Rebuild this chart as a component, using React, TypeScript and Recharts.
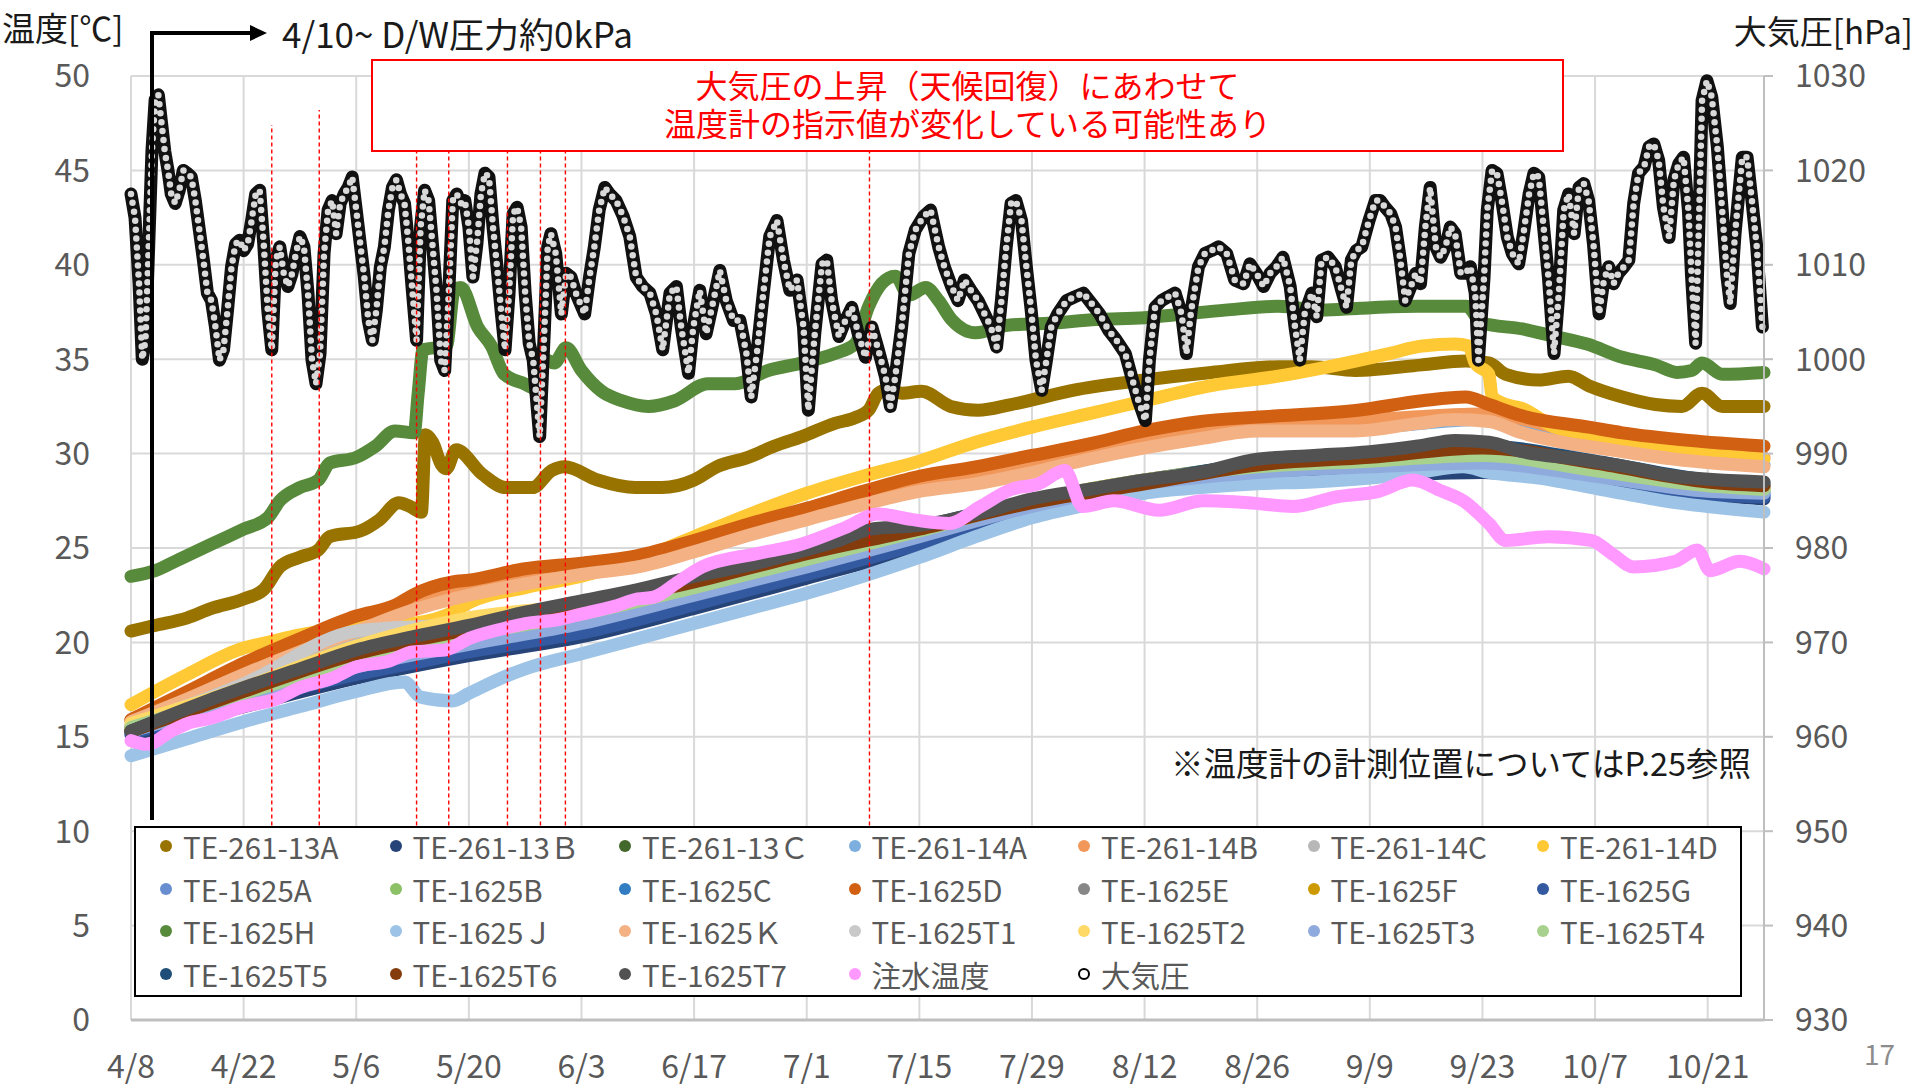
import React from 'react'
import { LineChart, Line, XAxis, YAxis, CartesianGrid, ReferenceLine } from 'recharts'

// x axis: days counted from 4/8
const dayTicks = [0, 14, 28, 42, 56, 70, 84, 98, 112, 126, 140, 154, 168, 182, 196]
const dateLabels = ['4/8', '4/22', '5/6', '5/20', '6/3', '6/17', '7/1', '7/15', '7/29', '8/12', '8/26', '9/9', '9/23', '10/7', '10/21']
const tempTicks = [0, 5, 10, 15, 20, 25, 30, 35, 40, 45, 50]
const pressureTicks = [930, 940, 950, 960, 970, 980, 990, 1000, 1010, 1020, 1030]

// red dotted markers (day, top in degC)
const eventDays = [17.5, 23.4, 35.5, 39.5, 46.8, 50.9, 54.0, 91.8]
const eventTops = [47.4, 48.2, 46, 46, 46, 46, 46, 46]

// coarse grid for the series that sit inside the bundle
const bundleDays = [0, 14, 28, 42, 56, 70, 84, 98, 112, 126, 140, 154, 168, 182, 196, 203]

const te261_13A = [[0, 20.6], [3, 20.9], [7, 21.3], [10, 21.8], [14, 22.3], [16.5, 22.8], [18.5, 24.0], [20.9, 24.5], [23.3, 24.9], [24.7, 25.6], [28.5, 25.9], [30.9, 26.5], [33.3, 27.4], [34.7, 27.2], [36.1, 26.9], [36.6, 31.0], [37.5, 30.6], [38.6, 29.4], [39.2, 29.2], [40.4, 30.2], [43.7, 28.9], [46.6, 28.2], [49.9, 28.2], [52.3, 29.1], [53.9, 29.3], [58, 28.6], [62.7, 28.2], [66, 28.2], [70, 28.6], [72.8, 29.3], [76.7, 29.8], [80, 30.4], [83.4, 30.9], [87.5, 31.6], [90, 31.9], [91.7, 32.3], [92.9, 33.2], [94.2, 33.4], [95.8, 33.2], [98.3, 33.3], [101.9, 32.5], [105.3, 32.3], [109.4, 32.6], [117.7, 33.4], [126, 33.9], [134.3, 34.3], [142.6, 34.6], [146.8, 34.6], [152.2, 34.4], [160.5, 34.7], [165.9, 34.9], [168.8, 34.8], [170.9, 34.2], [175, 33.9], [178.7, 34.1], [181.2, 33.6], [185.4, 33.0], [189.5, 32.6], [192.8, 32.5], [195.3, 33.2], [197.8, 32.5], [203, 32.5]]
const te261_13B = [15.1, 16.6, 18.1, 19.3, 20.3, 21.8, 23.4, 25.0, 26.8, 28.1, 28.6, 28.8, 29.0, 28.4, 27.8, 27.6]
const te261_13C = [15.5, 17.4, 19.2, 20.5, 21.6, 23.0, 24.5, 26.0, 27.5, 28.6, 29.4, 29.7, 30.1, 29.3, 28.4, 28.3]
const te261_14A = [15.9, 18.4, 20.7, 22.6, 23.7, 24.9, 26.6, 28.2, 29.2, 30.4, 31.3, 31.4, 31.8, 30.5, 29.6, 29.4]
const te261_14B = [15.9, 18.6, 21.0, 22.9, 23.9, 25.1, 26.8, 28.4, 29.4, 30.7, 31.6, 31.8, 32.1, 30.9, 30.1, 29.8]
const te261_14C = [15.6, 17.6, 20.3, 20.8, 21.9, 23.0, 24.3, 25.8, 27.4, 28.5, 29.3, 29.6, 29.8, 29.1, 28.3, 28.1]
const te261_14D = [[0, 16.7], [7, 18.3], [14, 19.7], [17, 20.0], [21, 20.4], [28, 20.8], [35, 21.0], [40, 21.6], [42, 22.1], [49, 22.9], [56, 23.5], [63, 24.4], [70, 25.6], [77, 26.8], [84, 27.9], [91, 28.8], [98, 29.6], [105, 30.6], [112, 31.4], [119, 32.1], [126, 32.8], [134.3, 33.6], [142.6, 34.1], [152.2, 34.9], [156.4, 35.3], [160.5, 35.7], [164.6, 35.8], [166.3, 35.7], [167.1, 34.8], [168.8, 34.2], [169.2, 33.0], [170.9, 32.6], [172.9, 32.4], [177, 31.4], [182, 31.0], [188, 30.4], [195, 30.0], [203, 29.7]]
const te1625A = [15.3, 17.0, 18.6, 19.8, 20.9, 22.4, 24.0, 25.5, 27.2, 28.4, 29.0, 29.3, 29.5, 28.8, 28.1, 27.9]
const te1625B = [15.4, 17.2, 18.9, 20.1, 21.2, 22.6, 24.1, 25.6, 27.3, 28.5, 29.1, 29.4, 29.6, 28.9, 28.2, 28.0]
const te1625C = [15.3, 16.9, 18.5, 19.7, 20.8, 22.3, 23.9, 25.4, 27.1, 28.4, 28.9, 29.2, 29.4, 28.7, 28.0, 27.8]
const te1625D = [[0, 15.9], [7, 17.4], [14, 18.9], [21, 20.2], [28, 21.4], [33, 22.0], [35, 22.5], [40, 23.2], [42, 23.3], [49, 23.9], [56, 24.2], [63, 24.6], [70, 25.4], [77, 26.3], [84, 27.1], [91, 28.0], [98, 28.8], [105, 29.3], [112, 29.9], [119, 30.5], [126, 31.2], [133, 31.7], [142.6, 32.0], [152.5, 32.3], [160.5, 32.8], [165.9, 33.0], [168.8, 32.6], [172.9, 32.0], [181.2, 31.4], [185.4, 31.1], [193.6, 30.7], [203, 30.4]]
const te1625E = [15.5, 17.4, 19.2, 20.5, 21.6, 23.0, 24.5, 25.9, 27.5, 28.5, 29.3, 29.6, 30.0, 29.2, 28.3, 28.2]
const te1625F = [15.4, 17.3, 19.0, 20.3, 21.4, 22.8, 24.3, 25.8, 27.4, 28.5, 29.2, 29.5, 29.8, 29.0, 28.2, 28.1]
const te1625G = [[0, 15.2], [7, 16.0], [14, 16.8], [21, 17.6], [28, 18.3], [35, 18.9], [42, 19.5], [49, 20.0], [56, 20.5], [63, 21.2], [70, 22.0], [77, 22.8], [84, 23.6], [91, 24.4], [98, 25.2], [105, 26.1], [112, 27.0], [119, 27.7], [126, 28.3], [133, 28.6], [140, 28.8], [147, 28.9], [154, 29.0], [160, 29.2], [165.6, 29.4], [168.8, 29.2], [175, 28.9], [182, 28.5], [186, 28.1], [192, 27.9], [203, 27.7]]
const te1625H = [[0, 23.5], [3, 23.8], [6, 24.4], [10, 25.2], [14, 26.0], [17, 26.6], [18.5, 27.5], [21, 28.2], [23.3, 28.6], [24.7, 29.5], [28, 29.8], [30.4, 30.4], [32.8, 31.2], [35.2, 31.1], [35.7, 33.2], [36.3, 35.5], [39.2, 35.7], [40.2, 38.7], [41, 38.8], [43.1, 36.7], [44.8, 35.7], [46.4, 34.2], [48.9, 33.7], [50.6, 33.4], [51.4, 35.0], [52.6, 34.8], [54.1, 35.6], [56, 34.4], [58.5, 33.3], [61, 32.8], [64.3, 32.5], [67.6, 32.8], [71.7, 33.7], [75.1, 33.7], [79.2, 34.4], [83.4, 34.8], [87.5, 35.3], [90, 35.8], [91.7, 37.8], [93.3, 39.0], [95, 39.4], [96.7, 38.4], [98.8, 38.8], [100.4, 38.1], [102, 37.1], [105, 36.4], [109, 36.8], [114, 36.9], [120, 37.1], [126, 37.2], [131, 37.4], [136, 37.6], [142.6, 37.8], [148, 37.6], [152.8, 37.7], [160, 37.8], [166, 37.8], [168, 36.9], [173, 36.6], [177, 36.2], [181, 35.8], [185.4, 35.1], [189.5, 34.7], [192.2, 34.3], [194, 34.4], [195.3, 34.8], [197.8, 34.2], [203, 34.3]]
const te1625J = [[0, 14.0], [7, 14.9], [14, 15.8], [21, 16.6], [28, 17.4], [34, 17.9], [36, 17.1], [40, 16.9], [42, 17.3], [46, 18.1], [49, 18.6], [56, 19.4], [63, 20.2], [70, 21.0], [77, 21.8], [84, 22.6], [91, 23.5], [98, 24.5], [105, 25.6], [112, 26.6], [119, 27.3], [126, 27.9], [133, 28.2], [140, 28.4], [147, 28.5], [154, 28.7], [160, 29.0], [165.6, 29.3], [168.8, 29.0], [175, 28.7], [184, 28.0], [192, 27.4], [203, 26.9]]
const te1625K = [[0, 15.8], [7, 17.0], [14, 18.3], [21, 19.5], [28, 20.6], [35, 21.7], [40, 22.3], [42, 22.5], [49, 23.1], [56, 23.6], [63, 24.0], [70, 24.8], [77, 25.7], [84, 26.5], [91, 27.3], [98, 28.0], [105, 28.4], [112, 29.0], [119, 29.7], [126, 30.3], [133, 30.8], [140, 31.2], [147, 31.2], [152.2, 31.2], [160, 31.6], [164.6, 31.8], [168.8, 31.7], [172.9, 31.1], [178, 30.6], [184, 30.2], [192, 29.7], [203, 29.3]]
const te1625T1 = [15.6, 17.8, 20.6, 21.0, 21.9, 22.9, 24.3, 25.8, 27.3, 28.4, 29.1, 29.4, 29.7, 29.0, 28.2, 28.0]
const te1625T2 = [15.7, 17.6, 19.8, 21.3, 22.0, 23.0, 24.4, 25.9, 27.5, 28.6, 29.2, 29.5, 29.7, 29.1, 28.3, 28.1]
const te1625T3 = [15.3, 17.0, 18.7, 19.9, 21.0, 22.5, 24.0, 25.6, 27.2, 28.4, 29.0, 29.3, 29.5, 28.8, 28.0, 27.9]
const te1625T4 = [15.5, 17.3, 19.1, 20.4, 21.5, 22.9, 24.4, 25.9, 27.5, 28.6, 29.3, 29.6, 29.9, 29.1, 28.3, 28.1]
const te1625T5 = [15.3, 17.5, 19.5, 20.8, 22.0, 23.3, 24.8, 26.1, 27.5, 28.5, 29.5, 29.9, 30.4, 29.6, 28.6, 28.4]
const te1625T6 = [15.3, 17.4, 19.4, 20.7, 21.9, 23.2, 24.7, 26.0, 27.4, 28.4, 29.4, 29.8, 30.3, 29.5, 28.5, 28.3]
const te1625T7 = [[0, 15.3], [7, 16.5], [14, 17.6], [21, 18.6], [28, 19.6], [35, 20.3], [42, 20.9], [49, 21.6], [56, 22.2], [63, 22.8], [70, 23.5], [77, 24.1], [84, 24.9], [88, 25.4], [92, 26.0], [98, 26.2], [105, 26.8], [112, 27.6], [119, 28.1], [126, 28.6], [133, 29.0], [140, 29.7], [147, 29.9], [154, 30.1], [160, 30.4], [164.6, 30.7], [168.8, 30.6], [173, 30.1], [180, 29.7], [186, 29.3], [192, 28.8], [203, 28.5]]
const waterTemp = [[0, 14.8], [2, 14.6], [5, 15.3], [7, 15.7], [10, 16.0], [14, 16.6], [18, 17.0], [21, 17.6], [25, 18.1], [28, 18.7], [32, 19.0], [35, 19.5], [39, 19.6], [42, 20.2], [46, 20.7], [49, 21.0], [53, 21.2], [56, 21.5], [60, 21.9], [63, 22.3], [65, 22.4], [68, 23.2], [71, 24.0], [77.8, 24.7], [83.3, 25.2], [88.9, 26.1], [92.8, 26.8], [97.2, 26.5], [101.7, 26.3], [105.6, 27.2], [109.4, 28.1], [112.8, 28.4], [116.1, 29.1], [118.3, 27.2], [122.2, 27.5], [127.8, 27.0], [133.3, 27.5], [138.9, 27.4], [144.5, 27.2], [149.8, 27.7], [155.1, 28.0], [159.3, 28.6], [163, 28.0], [165.6, 27.5], [168.8, 26.3], [170.9, 25.4], [176.2, 25.6], [181.5, 25.4], [184.1, 24.7], [186.8, 24.0], [192, 24.3], [194.7, 24.9], [196.3, 23.8], [200, 24.3], [203, 23.9]]

// atmospheric pressure [day, hPa]
const pressure = [[0, 1017.5], [0.5, 1015], [1, 1008], [1.4, 1000], [1.8, 1002], [2.2, 1012], [2.6, 1022], [3, 1027.5], [3.4, 1028], [3.8, 1025], [4.2, 1022], [4.6, 1020], [5, 1017.5], [5.5, 1016.5], [6, 1017.9], [6.5, 1020], [7, 1019.7], [7.5, 1019.3], [8, 1016.8], [9, 1010.5], [9.5, 1007], [10, 1006.2], [10.5, 1003.4], [11, 999.9], [11.5, 1001], [12, 1005.2], [12.5, 1009.8], [13, 1012.2], [13.5, 1012.6], [14, 1011.5], [14.5, 1012.2], [15, 1014.7], [15.5, 1017.5], [16, 1017.9], [16.5, 1012.2], [17, 1005.2], [17.5, 1001], [18, 1010.5], [18.5, 1011.9], [19, 1009], [19.5, 1007.7], [20, 1009], [20.5, 1011.2], [21, 1013], [21.5, 1011.9], [22, 1007], [22.5, 999.9], [23, 997.4], [23.5, 1000.6], [24, 1011.2], [24.5, 1015.8], [25, 1016.8], [25.5, 1013.3], [26, 1016.5], [26.5, 1017.5], [27, 1018.2], [27.5, 1019.3], [28, 1015.8], [28.5, 1012.2], [29, 1008.7], [29.5, 1004.1], [30, 1002], [30.5, 1005.2], [31, 1009.8], [31.5, 1011.9], [32, 1015.8], [32.5, 1018.2], [33, 1019], [33.5, 1017.5], [34, 1016.5], [34.5, 1012.2], [35, 1007], [35.5, 1002], [36, 1014], [36.5, 1017.9], [37, 1016.8], [37.5, 1011.9], [38, 1007], [38.5, 999.9], [39, 998.8], [39.5, 1007], [40, 1016.8], [40.5, 1017.5], [41, 1016.5], [41.5, 1016.8], [42, 1014], [42.5, 1008.7], [43, 1012.2], [43.5, 1017.5], [44, 1019.7], [44.5, 1019.3], [45, 1014], [45.5, 1009.8], [46, 1005.2], [46.5, 1001], [47, 1007], [47.5, 1015.4], [48, 1016.1], [48.5, 1014], [49, 1007], [49.5, 1001.7], [50, 999.9], [50.8, 991.8], [51.4, 1003.4], [51.8, 1011.9], [52.2, 1013.3], [52.8, 1011.2], [53.5, 1004.8], [54.1, 1009.1], [54.7, 1008.7], [55.3, 1007], [56.4, 1004.8], [57, 1008.7], [57.6, 1011.9], [58.2, 1015.8], [58.9, 1018.2], [59.5, 1017.5], [60.3, 1016.8], [61.2, 1015.1], [62, 1013], [62.8, 1008.7], [63.6, 1007.7], [64.5, 1007], [65.3, 1004.8], [66.1, 1001], [67, 1007], [67.8, 1007.7], [68.4, 1003.4], [69.3, 998.5], [69.9, 1003.4], [70.7, 1007.3], [71.5, 1002.7], [72.4, 1006.2], [73.2, 1009.4], [74, 1006.2], [74.9, 1004.1], [75.7, 1004.1], [76.5, 1000.6], [77.1, 996], [77.8, 1000.6], [78.6, 1007], [79.4, 1013], [80.3, 1014.7], [81.1, 1010.5], [81.9, 1007.3], [82.8, 1008.4], [83.6, 1003.4], [84.2, 994.6], [85, 1002.7], [85.9, 1010.1], [86.5, 1010.5], [87.1, 1006.2], [88, 1002.4], [88.8, 1004.1], [89.6, 1005.5], [90.4, 1002.7], [91.3, 1000.2], [92.1, 1003.4], [92.9, 1001], [93.8, 998.1], [94.4, 995], [95, 998.1], [95.8, 1003.4], [96.7, 1011.2], [97.5, 1013.7], [98.5, 1015.1], [99.4, 1015.8], [100.4, 1011.9], [101.1, 1009.8], [102, 1007.7], [102.8, 1006.2], [103.6, 1008.4], [104.4, 1007.3], [105.3, 1006.2], [106.1, 1004.8], [106.9, 1003.4], [107.6, 1001.3], [108.2, 1006.2], [108.8, 1011.9], [109.4, 1016.5], [110, 1016.8], [110.7, 1014.7], [111.3, 1009.8], [111.9, 1005.2], [112.5, 999.9], [113.2, 996.7], [113.8, 999.9], [114.4, 1003.4], [115.2, 1004.8], [116.3, 1006.2], [117.3, 1006.6], [118.4, 1007], [119.4, 1005.9], [120.4, 1004.8], [121.5, 1003.1], [122.5, 1002], [123.6, 1000.6], [124.4, 998.1], [125.2, 995.7], [126.1, 993.5], [126.6, 999.9], [127.3, 1005.5], [128.1, 1006.2], [128.9, 1006.6], [129.8, 1007], [130.6, 1004.8], [131.2, 1000.6], [131.8, 1005.2], [132.7, 1009.8], [133.5, 1011.2], [134.3, 1011.5], [135.2, 1011.9], [136.2, 1011.2], [137.2, 1008.4], [138.3, 1008], [139.1, 1010.1], [139.9, 1009.1], [140.8, 1007.7], [141.6, 1009.1], [142.4, 1009.8], [143.2, 1010.8], [144.1, 1007.7], [144.7, 1003.4], [145.3, 999.9], [145.9, 1004.8], [146.8, 1007], [147.4, 1004.5], [148, 1010.5], [148.8, 1010.8], [149.7, 1009.8], [150.5, 1007.3], [151.1, 1005.5], [151.7, 1010.5], [152.3, 1011.5], [153, 1011.9], [153.9, 1014.7], [154.7, 1016.8], [155.3, 1016.8], [155.9, 1016.1], [156.6, 1015.4], [157.2, 1014], [157.8, 1010.5], [158.4, 1006.2], [159.1, 1007.7], [159.7, 1009.1], [160.3, 1008], [160.9, 1014], [161.5, 1018.2], [162.2, 1011.9], [162.8, 1010.8], [163.4, 1011.9], [164, 1014], [164.6, 1013.3], [165.3, 1009.1], [165.9, 1009.1], [166.5, 1009.8], [167.1, 1007], [167.5, 999.9], [168.2, 1008.7], [168.6, 1015.8], [169.2, 1020], [169.8, 1019.7], [170.4, 1016.8], [171.1, 1012.9], [171.7, 1011.2], [172.5, 1010.1], [173.1, 1013.3], [173.8, 1017.5], [174.4, 1019.7], [175, 1019.3], [175.6, 1014], [176.2, 1008.7], [176.9, 1000.6], [177.5, 1007], [178.1, 1015.8], [178.7, 1017.5], [179.4, 1013.3], [180, 1018.2], [180.6, 1018.6], [181.2, 1016.8], [181.8, 1012.2], [182.5, 1004.8], [183.1, 1008.4], [183.7, 1009.8], [184.3, 1008], [184.9, 1009.1], [185.6, 1009.8], [186.2, 1010.5], [186.8, 1016.5], [187.4, 1019.7], [188.1, 1020.4], [188.7, 1022.5], [189.3, 1022.8], [189.9, 1021.1], [190.5, 1016.1], [191.2, 1012.9], [191.8, 1019], [192.4, 1020.7], [193, 1021.4], [193.6, 1015.8], [194, 1008.7], [194.5, 1001.7], [194.9, 1014], [195.3, 1027.4], [195.9, 1029.5], [196.5, 1027.8], [197.2, 1022.5], [197.8, 1015.8], [198.4, 1008.7], [198.8, 1005.9], [199.4, 1013.3], [200.3, 1021.4], [200.9, 1021.4], [201.5, 1016.8], [202.1, 1011.9], [202.8, 1003.4]]

const onGrid = (vals: number[]) => vals.map((v, i) => [bundleDays[i], v])

const series = [
  { name: 'TE-261-13A', color: '#997300', pts: te261_13A },
  { name: 'TE-261-13Ｂ', color: '#264478', pts: onGrid(te261_13B) },
  { name: 'TE-261-13Ｃ', color: '#43682b', pts: onGrid(te261_13C) },
  { name: 'TE-261-14A', color: '#7cafdd', pts: onGrid(te261_14A) },
  { name: 'TE-261-14B', color: '#f1975a', pts: onGrid(te261_14B) },
  { name: 'TE-261-14C', color: '#b7b7b7', pts: onGrid(te261_14C) },
  { name: 'TE-261-14D', color: '#ffc935', pts: te261_14D },
  { name: 'TE-1625A', color: '#698ed0', pts: onGrid(te1625A) },
  { name: 'TE-1625B', color: '#8cc168', pts: onGrid(te1625B) },
  { name: 'TE-1625C', color: '#327dc2', pts: onGrid(te1625C) },
  { name: 'TE-1625D', color: '#d26012', pts: te1625D },
  { name: 'TE-1625E', color: '#878787', pts: onGrid(te1625E) },
  { name: 'TE-1625F', color: '#cc9a00', pts: onGrid(te1625F) },
  { name: 'TE-1625G', color: '#335aa1', pts: te1625G },
  { name: 'TE-1625H', color: '#588a3c', pts: te1625H },
  { name: 'TE-1625Ｊ', color: '#9dc3e6', pts: te1625J },
  { name: 'TE-1625Ｋ', color: '#f4b183', pts: te1625K },
  { name: 'TE-1625T1', color: '#c9c9c9', pts: onGrid(te1625T1) },
  { name: 'TE-1625T2', color: '#ffd966', pts: onGrid(te1625T2) },
  { name: 'TE-1625T3', color: '#8faadc', pts: onGrid(te1625T3) },
  { name: 'TE-1625T4', color: '#a9d18e', pts: onGrid(te1625T4) },
  { name: 'TE-1625T5', color: '#1f4e79', pts: onGrid(te1625T5) },
  { name: 'TE-1625T6', color: '#843c0c', pts: onGrid(te1625T6) },
  { name: 'TE-1625T7', color: '#525252', pts: te1625T7 },
  { name: '注水温度', color: '#ff99ff', pts: waterTemp },
]

const toRows = (pts: number[][]) => pts.map(([day, v]) => ({ day, v }))

const FONT = "'Noto Sans CJK JP', 'Noto Sans', sans-serif"
const GRAY = '#595959'

// legend layout (7 columns x 4 rows)
const legendCols = 7
const legendColStep = 229.5
const legendRowStep = 42.5

export default function App() {
  const legendItems = [...series.map((s) => ({ name: s.name, color: s.color, hollow: false })), { name: '大気圧', color: '#000', hollow: true }]
  const pressureRows = toRows(pressure)

  return (
    <div style={{ position: 'absolute', left: 0, top: 0, width: 1917, height: 1086, background: '#fff', fontFamily: FONT, overflow: 'hidden' }}>
      <LineChart width={1917} height={1086} margin={{ top: 76, right: 73, bottom: 16, left: 71 }}>
        <CartesianGrid yAxisId="t" stroke="#d9d9d9" strokeWidth={2} />
        <XAxis
          dataKey="day"
          type="number"
          domain={[0, 203]}
          ticks={dayTicks}
          interval={0}
          tickFormatter={(v) => dateLabels[dayTicks.indexOf(v)]}
          height={50}
          tickLine={false}
          tickSize={0}
          tickMargin={35}
          axisLine={{ stroke: '#bfbfbf', strokeWidth: 3 }}
          tick={{ fill: GRAY, fontSize: 32, fontFamily: FONT }}
        />
        <YAxis
          yAxisId="t"
          domain={[0, 50]}
          ticks={tempTicks}
          interval={0}
          width={60}
          axisLine={false}
          tickLine={false}
          tickSize={0}
          tickMargin={41}
          tick={{ fill: GRAY, fontSize: 32, fontFamily: FONT }}
        />
        <YAxis
          yAxisId="p"
          orientation="right"
          domain={[930, 1030]}
          ticks={pressureTicks}
          interval={0}
          width={80}
          axisLine={{ stroke: '#bfbfbf', strokeWidth: 2 }}
          tickLine={{ stroke: '#bfbfbf', strokeWidth: 2 }}
          tickSize={9}
          tickMargin={22}
          tick={{ fill: GRAY, fontSize: 32, fontFamily: FONT, textAnchor: 'start' }}
        />
        {series.map((s) => (
          <Line
            key={s.name}
            yAxisId="t"
            data={toRows(s.pts)}
            dataKey="v"
            type="monotone"
            stroke={s.color}
            strokeWidth={13}
            strokeLinecap="round"
            strokeLinejoin="round"
            dot={false}
            activeDot={false}
            isAnimationActive={false}
          />
        ))}
        {/* pressure: black chain with grey marker centres */}
        <Line
          yAxisId="p"
          data={pressureRows}
          dataKey="v"
          type="linear"
          stroke="#111"
          strokeWidth={13}
          strokeLinejoin="round"
          strokeLinecap="round"
          dot={false}
          activeDot={false}
          isAnimationActive={false}
        />
        <Line
          yAxisId="p"
          data={pressureRows}
          dataKey="v"
          type="linear"
          stroke="#d9d9d9"
          strokeWidth={6.5}
          strokeLinecap="round"
          strokeDasharray="0 9"
          dot={false}
          activeDot={false}
          isAnimationActive={false}
        />
        {eventDays.map((d, i) => (
          <ReferenceLine
            key={d}
            yAxisId="t"
            ifOverflow="visible"
            segment={[{ x: d, y: 10.3 }, { x: d, y: eventTops[i] }]}
            stroke="#ff0000"
            strokeWidth={1.4}
            strokeDasharray="4 3"
          />
        ))}
      </LineChart>

      {/* axis titles */}
      <div style={{ position: 'absolute', left: 2, top: 10, fontSize: 33, lineHeight: '34px', color: '#1a1a1a' }}>温度[℃]</div>
      <div style={{ position: 'absolute', right: 4, top: 13, fontSize: 33, lineHeight: '34px', color: '#1a1a1a' }}>大気圧[hPa]</div>

      {/* D/W arrow */}
      <svg style={{ position: 'absolute', left: 0, top: 0 }} width={1917} height={1086}>
        <line x1={152} y1={31} x2={152} y2={820} stroke="#000" strokeWidth={4} />
        <line x1={150} y1={33} x2={252} y2={33} stroke="#000" strokeWidth={4} />
        <polygon points="250,25 267,33 250,41" fill="#000" />
      </svg>
      <div style={{ position: 'absolute', left: 282, top: 16, fontSize: 35, lineHeight: '34px', color: '#1a1a1a' }}>4/10~ D/W圧力約0kPa</div>

      {/* red note */}
      <div
        style={{
          position: 'absolute', left: 371, top: 59, width: 1193, height: 93, boxSizing: 'border-box',
          border: '2px solid #ff0000', background: '#fff', color: '#ff0000', fontSize: 32, lineHeight: '38px',
          textAlign: 'center', paddingTop: 4,
        }}
      >
        <div>大気圧の上昇（天候回復）にあわせて</div>
        <div>温度計の指示値が変化している可能性あり</div>
      </div>

      <div style={{ position: 'absolute', right: 166, top: 743, fontSize: 32.5, lineHeight: '38px', color: '#1a1a1a' }}>※温度計の計測位置についてはP.25参照</div>

      {/* legend */}
      <div style={{ position: 'absolute', left: 134, top: 826, width: 1608, height: 171, boxSizing: 'border-box', border: '2.5px solid #000', background: '#fff' }}>
        {legendItems.map((it, i) => {
          const col = i % legendCols
          const row = Math.floor(i / legendCols)
          return (
            <div
              key={it.name}
              style={{ position: 'absolute', left: 24 + col * legendColStep, top: -2 + row * legendRowStep, height: 40, display: 'flex', alignItems: 'center', whiteSpace: 'nowrap' }}
            >
              <span
                style={{
                  width: it.hollow ? 8 : 12, height: it.hollow ? 8 : 12, borderRadius: '50%', boxSizing: 'content-box',
                  background: it.hollow ? '#fff' : it.color, border: it.hollow ? '2px solid #000' : 'none', marginRight: 11,
                }}
              />
              <span style={{ fontSize: 29.5, color: GRAY, lineHeight: '40px' }}>{it.name}</span>
            </div>
          )
        })}
      </div>

      <div style={{ position: 'absolute', left: 1864, top: 1033, fontSize: 28, color: '#8c8c8c' }}>17</div>
    </div>
  )
}
